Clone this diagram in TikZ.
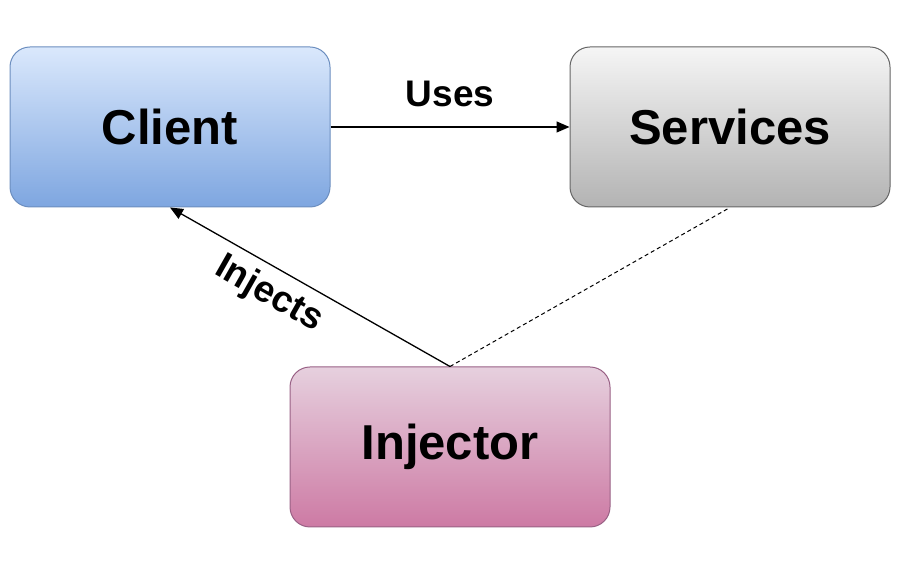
\documentclass[tikz,border=0pt]{standalone}
\usepackage{fontspec}
\setmainfont{Liberation Sans}
\usetikzlibrary{arrows.meta}
\definecolor{clienttop}{HTML}{DAE8FC}
\definecolor{clientbot}{HTML}{7EA6E0}
\definecolor{clientline}{HTML}{6C8EBF}
\definecolor{servtop}{HTML}{F5F5F5}
\definecolor{servbot}{HTML}{B3B3B3}
\definecolor{servline}{HTML}{666666}
\definecolor{injtop}{HTML}{E6D0DE}
\definecolor{injbot}{HTML}{CD7AA4}
\definecolor{injline}{HTML}{996185}
\begin{document}
\begin{tikzpicture}[x=1pt, y=1pt,
    box/.style={rounded corners=20pt, minimum width=320pt, minimum height=160pt,
        line width=1pt, inner sep=0pt, font=\fontsize{49}{58}\selectfont\bfseries},
    tag/.style={inner sep=0pt, font=\fontsize{37}{44}\selectfont\bfseries},
    link/.style={line width=1.3pt, -{Triangle[length=13pt, width=11pt]}}]
    \useasboundingbox (0,0) rectangle (902,564);
    \node[box, draw=clientline, top color=clienttop, bottom color=clientbot] (client) at (170,437) {Client};
    \node[box, draw=servline, top color=servtop, bottom color=servbot] (services) at (730,437) {Services};
    \node[box, draw=injline, top color=injtop, bottom color=injbot] (injector) at (450,117) {Injector};
    \draw[link] (client.east) -- node[tag, above=19pt] {Uses} (services.west);
    \draw[link, {Triangle[length=13pt, width=11pt]}-] (client.south) -- node[tag, sloped, below=9pt, pos=0.4] {Injects} (injector.north);
    \draw[line width=1pt, dash pattern=on 4pt off 3pt] (injector.north) -- (services.south);
\end{tikzpicture}
\end{document}
